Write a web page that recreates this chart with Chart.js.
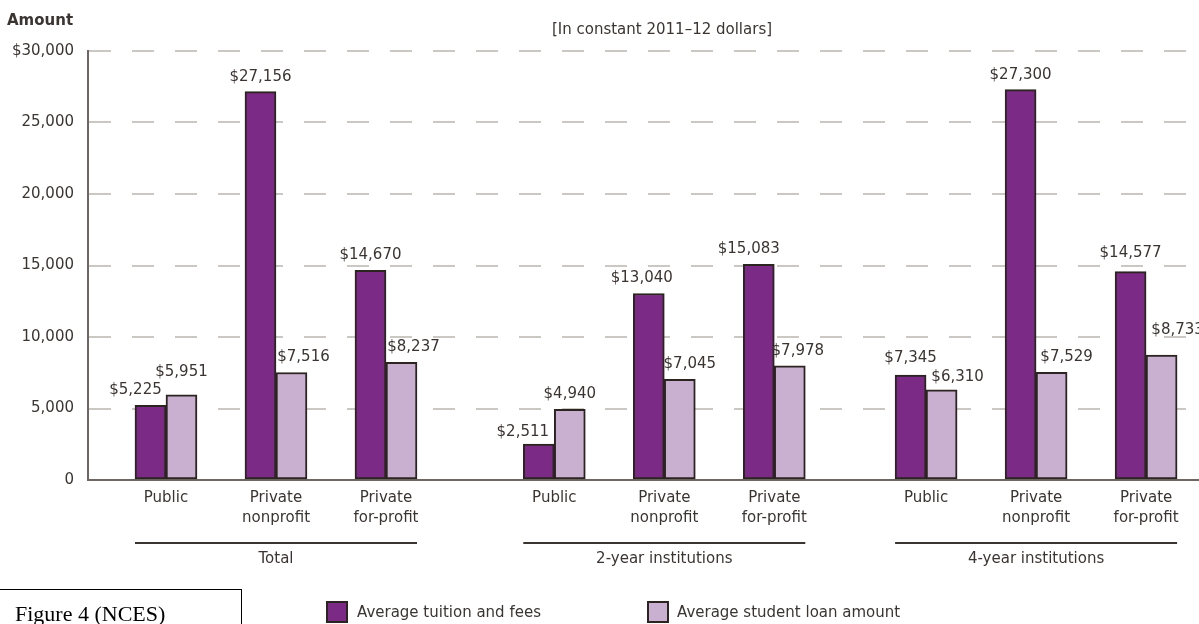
<!DOCTYPE html>
<html>
<head>
<meta charset="utf-8">
<script src="https://cdn.jsdelivr.net/npm/chart.js@4/dist/chart.umd.min.js"></script>
<style>
  html, body { margin: 0; padding: 0; background: #fff; }
  #wrap { position: relative; width: 1199px; height: 624px; overflow: hidden; }
  #fig {
    position: absolute; left: -1px; top: 589px; width: 243px; height: 60px;
    border: 1px solid #000; box-sizing: border-box;
    font-family: "Liberation Serif", "Times New Roman", serif; font-size: 22px; color: #000;
    padding: 13px 0 0 15px; line-height: 1;
  }
</style>
</head>
<body>
<div id="wrap">
  <canvas id="c" width="1199" height="624"></canvas>
  <div id="fig">Figure 4 (NCES)</div>
</div>
<script>
// ---- data ----
const groups = ['Total', '2-year institutions', '4-year institutions'];
const categories = [['Public'], ['Private', 'nonprofit'], ['Private', 'for-profit']];
const tuition = [5225, 27156, 14670, 2511, 13040, 15083, 7345, 27300, 14577];
const loans   = [5951, 7516, 8237, 4940, 7045, 7978, 6310, 7529, 8733];
const yTickValues = [0, 5000, 10000, 15000, 20000, 25000, 30000];
const seriesNames = ['Average tuition and fees', 'Average student loan amount'];

// ---- layout (not data) ----
const GROUP_OFFSETS = [0, 3.53, 6.91];
const FONT = '"DejaVu Sans", sans-serif';
const TXT = '#3b3532';
const PURPLE = '#7b2a85';
const LILAC = '#c9b0d1';
const EDGE = '#2b2421';
// label nudges [dx, dy] per series / bar
const NUDGE_T = [[-15,0],[0,0],[0,0],[-16,3],[-7,0],[-10,0],[0,-2],[0,0],[0,-3]];
const NUDGE_L = [[0,-8],[12,0],[12,0],[0,0],[10,0],[8,0],[16,2],[15,0],[16,-10]];

const xPos = [];
groups.forEach((g, gi) => categories.forEach((c, ci) => xPos.push(GROUP_OFFSETS[gi] + ci)));
const xLabels = [];
groups.forEach(() => categories.forEach(c => xLabels.push(c)));

const fmt = v => '$' + v.toLocaleString('en-US');

const decor = {
  id: 'decor',
  afterDatasetsDraw(chart) {
    const ctx = chart.ctx;
    ctx.save();
    // value labels
    ctx.font = '15px ' + FONT;
    ctx.fillStyle = TXT;
    ctx.textAlign = 'center';
    ctx.textBaseline = 'middle';
    [[tuition, NUDGE_T], [loans, NUDGE_L]].forEach(([arr, nudge], di) => {
      const meta = chart.getDatasetMeta(di);
      meta.data.forEach((bar, i) => {
        const [dx, dy] = nudge[i];
        ctx.fillText(fmt(arr[i]), bar.x + dx, bar.y - 15 + dy);
      });
    });
    // title pieces
    ctx.textAlign = 'left';
    ctx.font = 'bold 15px ' + FONT;
    ctx.fillText('Amount', 7, 21);
    ctx.font = '15px ' + FONT;
    ctx.textAlign = 'center';
    ctx.fillText('[In constant 2011\u201312 dollars]', 662, 30);
    // group lines and labels
    const m0 = chart.getDatasetMeta(0), m1 = chart.getDatasetMeta(1);
    groups.forEach((g, gi) => {
      const first = m0.data[gi * categories.length];
      const last = m1.data[gi * categories.length + categories.length - 1];
      const x1 = first.x - first.width / 2, x2 = last.x + last.width / 2;
      ctx.strokeStyle = TXT;
      ctx.lineWidth = 2;
      ctx.beginPath();
      ctx.moveTo(x1, 543); ctx.lineTo(x2, 543);
      ctx.stroke();
      ctx.fillText(g, (x1 + x2) / 2, 559);
    });
    // legend
    const lg = [[PURPLE, 326, 357], [LILAC, 647, 677]];
    lg.forEach(([col, bx, tx], i) => {
      ctx.fillStyle = col;
      ctx.fillRect(bx, 601, 22, 22);
      ctx.strokeStyle = EDGE;
      ctx.lineWidth = 2;
      ctx.strokeRect(bx + 1, 602, 20, 20);
      ctx.fillStyle = TXT;
      ctx.textAlign = 'left';
      ctx.fillText(seriesNames[i], tx, 613);
    });
    ctx.restore();
  }
};

new Chart(document.getElementById('c'), {
  type: 'bar',
  data: {
    datasets: [
      { label: seriesNames[0], data: tuition.map((v, i) => ({ x: xPos[i], y: v })),
        backgroundColor: PURPLE, borderColor: EDGE, borderWidth: 2, borderSkipped: false },
      { label: seriesNames[1], data: loans.map((v, i) => ({ x: xPos[i], y: v })),
        backgroundColor: LILAC, borderColor: EDGE, borderWidth: 2, borderSkipped: false }
    ]
  },
  options: {
    responsive: false,
    animation: false,
    barThickness: 31,
    layout: { padding: { left: 0, right: 0, top: 51, bottom: 0 } },
    plugins: { legend: { display: false }, tooltip: { enabled: false } },
    scales: {
      x: {
        type: 'linear',
        offset: false,
        min: -0.709, max: 9.391,
        afterFit: s => { s.height = 144; },
        afterBuildTicks: s => { s.ticks = xPos.map(v => ({ value: v })); },
        grid: { display: false, drawTicks: false, offset: false },
        border: { display: true, color: '#6d6662', width: 2 },
        ticks: {
          autoSkip: false, maxRotation: 0, padding: 8,
          color: TXT, font: { family: FONT, size: 15, lineHeight: 1.33 },
          callback: (v, i) => xLabels[i]
        }
      },
      y: {
        min: 0, max: 30000,
        afterFit: s => { s.width = 88; },
        afterBuildTicks: s => { s.ticks = yTickValues.map(v => ({ value: v })); },
        grid: {
          drawTicks: false, lineWidth: 2,
          color: c => c.tick && c.tick.value === 0 ? 'rgba(0,0,0,0)' : '#cbc7c3'
        },
        border: { display: true, color: '#6d6662', width: 2, dash: [22, 21] },
        ticks: {
          padding: 14, color: TXT, font: { family: FONT, size: 15 },
          callback: v => v === 30000 ? '$30,000' : v.toLocaleString('en-US')
        }
      }
    }
  },
  plugins: [decor]
});
</script>
</body>
</html>
